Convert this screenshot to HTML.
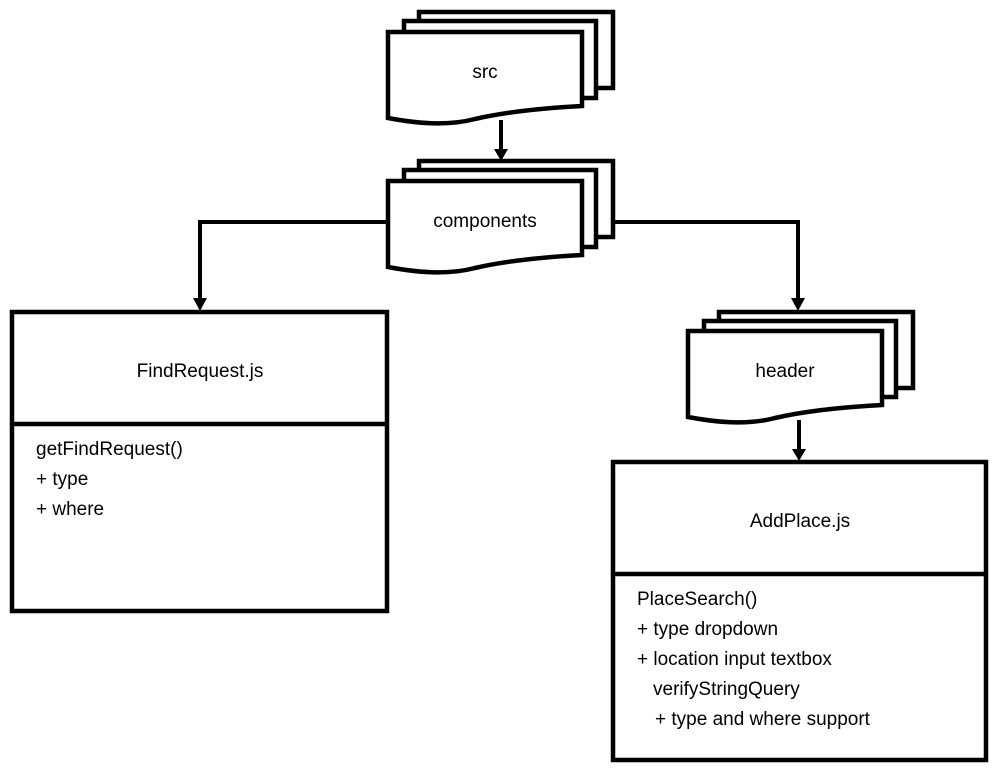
<!DOCTYPE html>
<html><head><meta charset="utf-8"><style>
html,body{margin:0;padding:0;background:#fff;}
svg{display:block;}
text{font-family:"Liberation Sans",sans-serif;font-size:19px;fill:#000;}
</style></head><body>
<svg width="999" height="771" viewBox="0 0 999 771" xmlns="http://www.w3.org/2000/svg">
<g fill="#fff" stroke="#000" stroke-width="4.5" stroke-linejoin="miter">
<rect x="419" y="12" width="194" height="76"/>
<rect x="404" y="21" width="192" height="77"/>
<path d="M388,32 H582 V106 C545,108 505,112 475,119 C452,125 425,125 388,118 Z"/>
<rect x="419" y="161" width="194" height="76"/>
<rect x="404" y="170" width="192" height="77"/>
<path d="M388,181 H582 V255 C545,257 505,261 475,268 C452,274 425,274 388,267 Z"/>
<rect x="719" y="312" width="194" height="76"/>
<rect x="704" y="321" width="192" height="76"/>
<path d="M688,331 H882 V405 C845,407 805,411 775,418 C752,424 725,424 688,417 Z"/>
<rect x="12" y="312" width="375" height="299"/>
<line x1="12" y1="424" x2="387" y2="424"/>
<rect x="613" y="462" width="373" height="298"/>
<line x1="613" y1="574" x2="986" y2="574"/>
</g>
<g fill="none" stroke="#000" stroke-width="4">
<line x1="501" y1="120" x2="501" y2="150"/>
<polyline points="388,222 200,222 200,300"/>
<polyline points="613,222 798,222 798,300"/>
<line x1="799" y1="420" x2="799" y2="450"/>
</g>
<g fill="#000">
<polygon points="494,149 508,149 501,161"/>
<polygon points="193,298 207,298 200,311"/>
<polygon points="791,298 805,298 798,311"/>
<polygon points="792,449 806,449 799,461"/>
</g>
<text x="485" y="78" text-anchor="middle">src</text>
<text x="485" y="227" text-anchor="middle">components</text>
<text x="785" y="377" text-anchor="middle">header</text>
<text x="200" y="377" text-anchor="middle">FindRequest.js</text>
<text x="800" y="527" text-anchor="middle">AddPlace.js</text>
<text x="36" y="455">getFindRequest()</text>
<text x="36" y="485">+ type</text>
<text x="36" y="515">+ where</text>
<text x="637" y="605">PlaceSearch()</text>
<text x="637" y="635">+ type dropdown</text>
<text x="637" y="665">+ location input textbox</text>
<text x="653" y="695">verifyStringQuery</text>
<text x="655" y="725">+ type and where support</text>
</svg>
</body></html>
